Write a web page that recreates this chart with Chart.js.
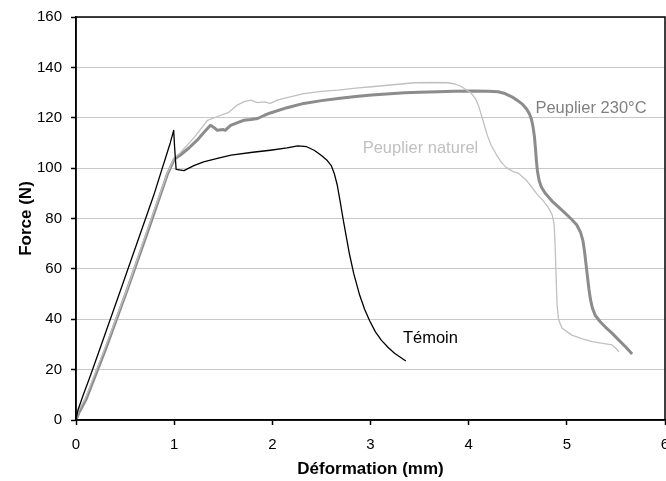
<!DOCTYPE html>
<html>
<head>
<meta charset="utf-8">
<script src="https://cdn.jsdelivr.net/npm/chart.js@4/dist/chart.umd.min.js"></script>
<style>
    html, body { margin: 0; padding: 0; background: #fff; }
    #wrap { width: 666px; height: 481px; }
</style>
</head>
<body>
<div id="wrap"><canvas id="chart"></canvas></div>
<script>
// Force / déformation curves.
const temoinX = [0, 0.02, 0.07, 0.15, 0.25, 0.467, 0.79, 0.96, 0.995, 1.005, 1.02, 1.1, 1.2, 1.3, 1.45, 1.58, 1.8, 1.98, 2.15, 2.26, 2.35, 2.43, 2.5, 2.56, 2.6, 2.63, 2.66, 2.69, 2.72, 2.75, 2.785, 2.83, 2.89, 2.94, 2.99, 3.05, 3.11, 3.18, 3.245, 3.3, 3.36];
const temoinY = [0, 4, 9.5, 18, 29, 53, 89, 110, 115, 108, 99.5, 99, 101, 102.5, 104, 105.2, 106.3, 107.1, 108, 108.8, 108.5, 107, 105, 103, 101, 98, 93.5, 87, 80, 73.5, 66, 58, 49.5, 44, 39.5, 35, 31.7, 28.8, 26.5, 25, 23.4];

const naturelX = [0, 0.03, 0.1, 0.3, 0.52, 0.75, 0.93, 1.0, 1.06, 1.2, 1.3, 1.34, 1.44, 1.55, 1.64, 1.72, 1.78, 1.85, 1.92, 1.98, 2.05, 2.15, 2.32, 2.5, 2.67, 2.85, 3.01, 3.2, 3.45, 3.65, 3.79, 3.86, 3.92, 3.98, 4.03, 4.07, 4.1, 4.13, 4.16, 4.19, 4.23, 4.28, 4.33, 4.38, 4.45, 4.51, 4.58, 4.64, 4.7, 4.76, 4.81, 4.85, 4.87, 4.88, 4.89, 4.9, 4.915, 4.95, 5.05, 5.15, 5.26, 5.35, 5.46, 5.5, 5.53];
const naturelY = [0, 4, 9, 29, 52, 78, 98, 104, 106, 112, 117, 119, 120.5, 122, 125, 126.5, 127, 126, 126.3, 125.7, 127, 128, 129.6, 130.5, 131, 131.8, 132.3, 133, 133.9, 134, 133.9, 133.4, 132.5, 131, 129.6, 127.5, 124.8, 121, 117, 113, 109, 105.5, 102.5, 100.3, 98.7, 97.9, 95.5, 92.6, 89.5, 87, 84.5, 81.5, 78, 70, 58, 46, 40, 36.5, 33.7, 32.3, 31.1, 30.5, 29.8, 28.5, 27.1];

const traiteX = [0, 0.03, 0.1, 0.3, 0.52, 0.75, 0.93, 1.0, 1.063, 1.15, 1.234, 1.3, 1.37, 1.41, 1.44, 1.5, 1.52, 1.575, 1.64, 1.71, 1.78, 1.85, 1.92, 1.98, 2.15, 2.32, 2.5, 2.67, 2.85, 3.01, 3.2, 3.35, 3.5, 3.69, 3.85, 4.03, 4.2, 4.3, 4.37, 4.44, 4.5, 4.55, 4.59, 4.62, 4.64, 4.655, 4.67, 4.68, 4.69, 4.7, 4.717, 4.74, 4.78, 4.86, 4.95, 5.04, 5.1, 5.14, 5.165, 5.18, 5.195, 5.21, 5.225, 5.24, 5.26, 5.29, 5.34, 5.39, 5.46, 5.53, 5.6, 5.665];
const traiteY = [0, 3, 8, 28, 51.5, 77, 97.5, 103.5, 105.2, 108, 111.1, 114, 117, 116, 115, 115.3, 115, 117, 118, 119, 119.3, 119.7, 121, 121.9, 124, 125.7, 126.8, 127.6, 128.4, 129, 129.5, 129.9, 130.1, 130.3, 130.5, 130.6, 130.5, 130.3, 129.6, 128.3, 126.8, 125.3, 123.5, 121.5, 119.3, 116.5, 112.5, 108, 103, 99, 95.2, 92.5, 90, 86.5, 83.3, 80, 77.5, 74.5, 71, 67, 62, 57, 52, 48, 44.5, 41.5, 39, 37, 34.5, 31.7, 29, 26.2];

const seriesNames = ['Témoin', 'Peuplier naturel', 'Peuplier 230°C'];
const seriesColors = ['#000000', '#c0c0c0', '#8c8c8c'];
const labelColors = ['#000000', '#c0c0c0', '#808080'];
// where each curve name sits, in data units (left edge, middle of text)
const labelAtX = [3.33, 2.92, 4.68];
const labelAtY = [32.5, 107.9, 123.8];

const yTicks = [0, 20, 40, 60, 80, 100, 120, 140, 160];

const zip = (xs, ys) => xs.map((x, i) => ({ x: x, y: ys[i] }));

const curveLabels = {
    id: 'curveLabels',
    afterDatasetsDraw(chart) {
        const { ctx, scales: { x, y } } = chart;
        ctx.save();
        ctx.font = '16.5px "Liberation Sans", Arial, sans-serif';
        ctx.textAlign = 'left';
        ctx.textBaseline = 'middle';
        seriesNames.forEach((name, i) => {
            ctx.fillStyle = labelColors[i];
            ctx.fillText(name, x.getPixelForValue(labelAtX[i]), y.getPixelForValue(labelAtY[i]));
        });
        ctx.restore();
    }
};

const plotFrame = {
    id: 'plotFrame',
    afterDraw(chart) {
        const { ctx, chartArea: a } = chart;
        ctx.save();
        ctx.strokeStyle = '#000';
        ctx.lineWidth = 1.5;
        ctx.strokeRect(a.left, a.top, a.right - a.left, a.bottom - a.top);
        ctx.restore();
    }
};

new Chart(document.getElementById('chart'), {
    type: 'scatter',
    data: {
        datasets: [
            { label: seriesNames[0], data: zip(temoinX, temoinY), borderColor: seriesColors[0], borderWidth: 1.3 },
            { label: seriesNames[1], data: zip(naturelX, naturelY), borderColor: seriesColors[1], borderWidth: 1.3 },
            { label: seriesNames[2], data: zip(traiteX, traiteY), borderColor: seriesColors[2], borderWidth: 3 },
        ].map((d) => Object.assign(d, { showLine: true, pointRadius: 0, tension: 0, fill: false, borderJoinStyle: 'round' }))
    },
    options: {
        responsive: true,
        maintainAspectRatio: false,
        animation: false,
        layout: { padding: { top: 17, right: 1, left: 0, bottom: 0 } },
        plugins: { legend: { display: false }, tooltip: { enabled: false } },
        scales: {
            x: {
                type: 'linear', min: 0, max: 6,
                ticks: { stepSize: 1, color: '#000', padding: 11, font: { family: '"Liberation Sans", Arial', size: 15 } },
                grid: { drawOnChartArea: false, tickLength: 5, tickColor: '#000', tickWidth: 1.5 },
                border: { color: '#000', width: 1.5 },
                title: { display: true, text: 'Déformation (mm)', color: '#000', padding: { top: 0, bottom: 1 }, font: { family: '"Liberation Sans", Arial', size: 17, weight: 'bold' } },
                afterFit(scale) { scale.height = 61; scale.paddingLeft = 0; scale.paddingRight = 0; }
            },
            y: {
                type: 'linear', min: 0, max: 160,
                afterBuildTicks(scale) { scale.ticks = yTicks.map((v) => ({ value: v })); },
                ticks: { color: '#000', padding: 9, font: { family: '"Liberation Sans", Arial', size: 15 } },
                grid: { color: '#c8c8c8', lineWidth: 1, tickLength: 5, tickColor: '#000', tickWidth: 1.5 },
                border: { color: '#000', width: 1.5 },
                title: { display: true, text: 'Force (N)', color: '#000', padding: { top: 16, bottom: 0 }, font: { family: '"Liberation Sans", Arial', size: 17, weight: 'bold' } },
                afterFit(scale) { scale.width = 76; scale.paddingTop = 0; scale.paddingBottom = 0; }
            }
        }
    },
    plugins: [curveLabels, plotFrame]
});
</script>
</body>
</html>
